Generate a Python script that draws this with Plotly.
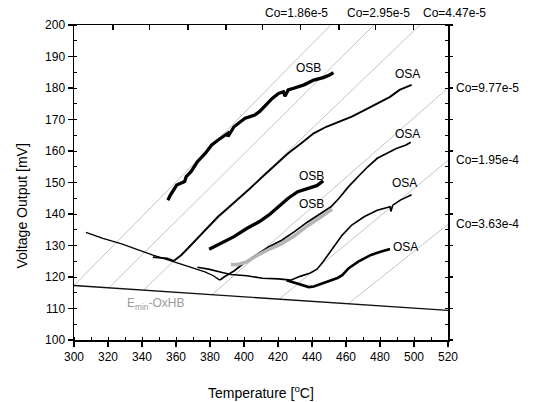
import plotly.graph_objects as go

# ---------------- data ----------------
x_range = [300, 520]
y_range = [100, 200]

# OSB (top, thick)
osb_top_T = [355.2, 356.7, 360.4, 363.2, 365.1, 366.0, 368.8, 370.7, 372.6, 377.3, 381.0, 384.8, 388.5,
             390.4, 390.6, 394.1, 397.9, 400.7, 403.5, 406.3, 409.1, 412.9, 416.6, 420.3, 423.2, 424.1,
             426.0, 429.7, 435.3, 441.0, 446.6, 450.3, 452.6]
osb_top_V = [144.4, 146.0, 149.2, 149.7, 150.3, 151.9, 153.4, 155.0, 156.6, 159.3, 161.9, 163.5, 165.1,
             165.6, 164.6, 167.7, 169.3, 170.4, 170.9, 171.4, 172.5, 174.6, 176.7, 178.3, 178.8, 177.4,
             179.4, 180.0, 181.0, 182.5, 183.3, 184.1, 184.9]

# OSA (top)
osa_top_T = [346.4, 351.0, 354.8, 358.6, 363.2, 367.9, 373.5, 379.1, 384.8, 390.4, 396.0, 403.5, 411.0,
             418.5, 426.0, 433.5, 441.0, 448.4, 455.9, 463.4, 470.9, 478.4, 485.9, 491.5, 498.6]
osa_top_V = [126.3, 126.2, 125.9, 125.1, 127.0, 129.6, 132.8, 136.0, 139.2, 141.8, 144.4, 148.1, 151.9,
             155.6, 159.3, 162.4, 165.6, 167.7, 169.3, 170.9, 173.0, 175.1, 177.2, 179.4, 181.0]

# OSB (middle, thick)
osb_mid_T = [379.5, 386.6, 394.1, 401.6, 409.1, 414.7, 420.3, 426.0, 431.6, 437.2, 442.8, 446.6]
osb_mid_V = [128.8, 130.7, 132.8, 135.4, 137.6, 139.7, 142.3, 145.0, 147.1, 148.1, 149.0, 150.5]

# descending curve
desc_T = [307.0, 317.0, 328.0, 337.0, 346.0, 353.0, 360.0, 366.0, 372.0, 377.0, 382.0, 385.7]
desc_V = [134.2, 132.3, 130.5, 128.7, 127.0, 125.8, 124.6, 123.5, 122.5, 121.6, 120.4, 119.0]

# OSA (second, ends ~163)
osa_mid_T = [385.7, 388.5, 394.1, 399.7, 407.2, 414.7, 422.2, 429.7, 437.2, 444.7, 451.2, 455.9, 461.5,
             467.2, 472.8, 478.4, 484.0, 489.6, 495.3, 498.1]
osa_mid_V = [119.0, 120.1, 121.9, 124.3, 127.0, 129.6, 131.7, 134.4, 137.4, 139.9, 142.3, 145.0, 148.7,
             151.9, 155.0, 157.7, 159.3, 160.8, 161.9, 162.8]

# OSB (lower, grey)
osb_low_T = [392.3, 396.0, 401.6, 407.2, 414.7, 422.2, 429.7, 437.2, 444.7, 451.8]
osb_low_V = [124.0, 123.9, 124.8, 126.7, 128.8, 130.6, 133.1, 136.2, 138.9, 141.6]

# OSA (third, ends ~146)
osa3_T = [372.6, 379.1, 386.6, 392.3, 401.6, 411.0, 420.3, 427.5, 433.0, 439.0, 443.0, 446.6, 452.2,
          457.8, 463.4, 470.9, 478.4, 485.9, 486.4, 487.5, 492.0, 498.6]
osa3_V = [123.1, 122.5, 121.5, 120.8, 120.4, 119.6, 119.4, 119.0, 120.2, 121.3, 122.5, 124.9, 129.1,
          133.3, 136.5, 139.2, 141.2, 142.3, 140.8, 142.8, 144.4, 146.1]

# OSA (lowest, ends ~129)
osa4_T = [425.0, 430.0, 433.5, 436.0, 438.1, 441.0, 444.7, 448.0, 452.2, 455.0, 457.8, 461.6, 467.2,
          474.7, 480.3, 485.9]
osa4_V = [119.0, 118.2, 117.5, 117.0, 116.8, 117.0, 117.7, 118.3, 119.0, 119.7, 120.6, 122.8, 124.9,
          127.0, 128.0, 128.9]

# E_min - OxHB line
emin_T = [300, 520]
emin_V = [117.3, 109.4]

# iso-concentration lines
iso_labels = ["Co=1.86e-5", "Co=2.95e-5", "Co=4.47e-5", "Co=9.77e-5", "Co=1.95e-4", "Co=3.63e-4"]
iso_T0 = [300.0, 320.5, 341.0, 381.5, 421.0, 461.5]
iso_V0 = [117.3, 116.6, 115.9, 114.5, 113.1, 111.6]
iso_T1 = [451.0, 476.5, 503.5, 520.0, 520.0, 520.0]
iso_V1 = [200.0, 200.0, 200.0, 180.0, 157.0, 136.7]

# curve labels
lab_text = ["OSB", "OSA", "OSA", "OSB", "OSB", "OSA", "OSA"]
lab_T = [438.0, 496.0, 496.0, 439.5, 439.5, 494.3, 495.0]
lab_V = [186.5, 184.3, 165.4, 152.2, 143.2, 150.0, 129.6]

x_ticks = [300, 320, 340, 360, 380, 400, 420, 440, 460, 480, 500, 520]
y_ticks = [100, 110, 120, 130, 140, 150, 160, 170, 180, 190, 200]
top_ticks = [322.9, 344.5, 367.0, 389.4, 411.0, 433.4, 455.9, 477.4, 499.9]

# ---------------- figure ----------------
FONT = "Liberation Sans, Arial, sans-serif"
fig = go.Figure()

for t0, v0, t1, v1 in zip(iso_T0, iso_V0, iso_T1, iso_V1):
    fig.add_trace(go.Scatter(x=[t0, t1], y=[v0, v1], mode="lines",
                             line=dict(color="#c4c4c4", width=1), hoverinfo="skip"))

fig.add_trace(go.Scatter(x=emin_T, y=emin_V, mode="lines", line=dict(color="#111", width=1.3)))

fig.add_trace(go.Scatter(x=desc_T, y=desc_V, mode="lines", line=dict(color="black", width=1.3)))
fig.add_trace(go.Scatter(x=osa_mid_T, y=osa_mid_V, mode="lines", line=dict(color="black", width=1.7)))
fig.add_trace(go.Scatter(x=osb_low_T, y=osb_low_V, mode="lines", line=dict(color="#b4b4b4", width=3.5)))
fig.add_trace(go.Scatter(x=osa3_T, y=osa3_V, mode="lines", line=dict(color="black", width=1.6)))
fig.add_trace(go.Scatter(x=osa4_T, y=osa4_V, mode="lines", line=dict(color="black", width=2.6)))
fig.add_trace(go.Scatter(x=osa_top_T, y=osa_top_V, mode="lines", line=dict(color="black", width=1.9)))
fig.add_trace(go.Scatter(x=osb_mid_T, y=osb_mid_V, mode="lines", line=dict(color="black", width=3.3)))
fig.add_trace(go.Scatter(x=osb_top_T, y=osb_top_V, mode="lines", line=dict(color="black", width=3.3)))

# invisible trace to activate top / right axes
fig.add_trace(go.Scatter(x=x_range, y=y_range, mode="none", xaxis="x2", yaxis="y2",
                         hoverinfo="skip"))

annotations = []
for txt, t, v in zip(lab_text, lab_T, lab_V):
    annotations.append(dict(x=t, y=v, text=txt, showarrow=False, xanchor="center", yanchor="middle",
                            font=dict(size=12, color="black", family=FONT)))

# top Co labels (paper coords)
top_lab_x = [0.684, 0.903, 0.927]
top_lab_anchor = ["right", "right", "left"]
for txt, px, anc in zip(iso_labels[:3], top_lab_x, top_lab_anchor):
    annotations.append(dict(x=px, y=1.038, xref="paper", yref="paper", text=txt, showarrow=False,
                            xanchor=anc, yanchor="middle", font=dict(size=12, color="black", family=FONT)))
right_lab_y = [0.800, 0.571, 0.368]
for txt, py in zip(iso_labels[3:], right_lab_y):
    annotations.append(dict(x=1.016, y=py, xref="paper", yref="paper", text=txt, showarrow=False,
                            xanchor="left", yanchor="middle", font=dict(size=12, color="black", family=FONT)))

annotations.append(dict(x=330.0, y=111.3, text="E<sub>min</sub>-OxHB", showarrow=False,
                        xanchor="left", yanchor="middle", font=dict(size=12, color="#9a9a9a", family=FONT)))

annotations.append(dict(x=0.5, y=-0.165, xref="paper", yref="paper", text="Temperature [<sup>o</sup>C]",
                        showarrow=False, xanchor="center", yanchor="middle",
                        font=dict(size=14, color="black", family=FONT)))
annotations.append(dict(x=-0.138, y=0.425, xref="paper", yref="paper", text="Voltage Output [mV]",
                        showarrow=False, xanchor="center", yanchor="middle", textangle=-90,
                        font=dict(size=14, color="black", family=FONT)))

fig.update_layout(
    width=548, height=402,
    margin=dict(l=74, r=100, t=25, b=62),
    paper_bgcolor="white", plot_bgcolor="white",
    showlegend=False,
    font=dict(family=FONT, size=12, color="black"),
    annotations=annotations,
    xaxis=dict(range=x_range, tickvals=x_ticks, showgrid=False, zeroline=False,
               showline=True, linecolor="black", linewidth=1.5, mirror=True,
               ticks="outside", ticklen=5, tickwidth=1.2, tickcolor="black",
               minor=dict(ticks="inside", dtick=10, ticklen=3, tickwidth=1, tickcolor="black"),
               tickfont=dict(size=12, family=FONT)),
    yaxis=dict(range=y_range, tickvals=y_ticks, showgrid=False, zeroline=False,
               showline=True, linecolor="black", linewidth=1.5, mirror=True,
               ticks="outside", ticklen=5, tickwidth=1.2, tickcolor="black",
               minor=dict(ticks="inside", dtick=5, ticklen=3, tickwidth=1, tickcolor="black"),
               tickfont=dict(size=12, family=FONT)),
    xaxis2=dict(range=x_range, overlaying="x", side="top", tickvals=top_ticks, showticklabels=False,
                ticks="inside", ticklen=5, tickwidth=1.2, tickcolor="black", showgrid=False,
                zeroline=False, showline=False),
    yaxis2=dict(range=y_range, overlaying="y", side="right", tickvals=y_ticks, showticklabels=False,
                ticks="outside", ticklen=4, tickwidth=1.2, tickcolor="black", showgrid=False,
                zeroline=False, showline=False,
                minor=dict(ticks="inside", dtick=5, ticklen=3, tickwidth=1, tickcolor="black")),
)

fig.write_html("out.html",
               config={"displayModeBar": False, "staticPlot": True},
               post_script="document.body.style.margin='0';document.body.style.overflow='hidden';")
